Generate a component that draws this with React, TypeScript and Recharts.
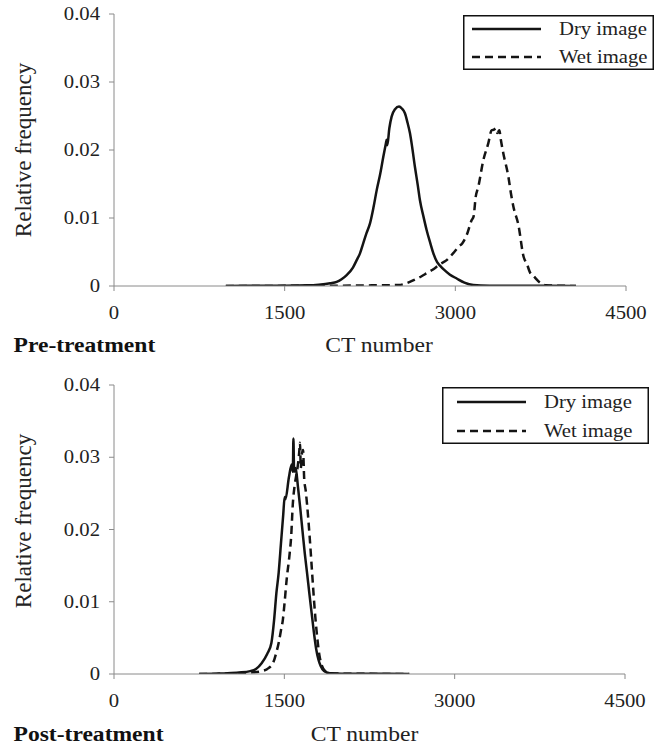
import React from 'react';
import { LineChart, Line, XAxis, YAxis } from 'recharts';

const ctTicks = [0, 1500, 3000, 4500];
const freqTicks = [0, 0.01, 0.02, 0.03, 0.04];
const seriesNames = ['Dry image', 'Wet image'];

// Pre-treatment, dry image
const preDryCt = [983, 1200, 1500, 1700, 1800, 1900, 1957, 2000, 2045, 2100, 2133, 2162, 2191, 2220, 2250, 2280, 2309, 2340, 2367, 2390, 2396, 2402, 2420, 2440, 2470, 2505, 2530, 2557, 2580, 2601, 2620, 2645, 2670, 2689, 2720, 2748, 2780, 2807, 2840, 2865, 2900, 2950, 3012, 3080, 3158, 3300, 3500, 3800, 4060];
const preDryFreq = [0, 0.00003, 0.00005, 0.0001, 0.0002, 0.0004, 0.0006, 0.001, 0.0016, 0.0027, 0.0038, 0.0048, 0.0063, 0.0078, 0.0092, 0.0115, 0.0141, 0.0165, 0.019, 0.021, 0.0215, 0.0207, 0.0232, 0.0249, 0.026, 0.0264, 0.0261, 0.0254, 0.024, 0.0225, 0.0205, 0.0175, 0.0148, 0.0126, 0.0102, 0.0082, 0.0063, 0.0048, 0.0035, 0.003, 0.0024, 0.0017, 0.0011, 0.0005, 0.00015, 0.00005, 0.00003, 0.00002, 0];

// Pre-treatment, wet image
const preWetCt = [983, 1500, 2000, 2300, 2500, 2600, 2650, 2700, 2750, 2800, 2865, 2924, 2980, 3030, 3062, 3100, 3144, 3160, 3179, 3202, 3246, 3290, 3319, 3340, 3357, 3369, 3387, 3400, 3422, 3466, 3490, 3510, 3554, 3600, 3630, 3656, 3685, 3744, 3800, 3900, 4060];
const preWetFreq = [0, 0.00002, 0.00005, 0.0001, 0.00015, 0.0006, 0.001, 0.0014, 0.0019, 0.0024, 0.0032, 0.0038, 0.0048, 0.0058, 0.0063, 0.0075, 0.0097, 0.0102, 0.0131, 0.0146, 0.0185, 0.021, 0.0229, 0.023, 0.0232, 0.0225, 0.0229, 0.0215, 0.0195, 0.0161, 0.0135, 0.0117, 0.009, 0.0043, 0.0032, 0.002, 0.0015, 0.0005, 0.0001, 0.00005, 0];

// Post-treatment, dry image
const postDryCt = [750, 900, 1000, 1100, 1200, 1250, 1300, 1350, 1386, 1410, 1430, 1450, 1470, 1490, 1503, 1510, 1540, 1565, 1575, 1580, 1586, 1600, 1620, 1640, 1660, 1680, 1700, 1720, 1740, 1760, 1780, 1800, 1820, 1850, 1900, 2000, 2200, 2400, 2600];
const postDryFreq = [0, 0.00005, 0.0001, 0.0002, 0.0004, 0.0007, 0.0015, 0.0028, 0.0043, 0.0075, 0.0112, 0.014, 0.018, 0.022, 0.0245, 0.0242, 0.0272, 0.029, 0.028, 0.0326, 0.028, 0.0285, 0.0259, 0.023, 0.0198, 0.0167, 0.014, 0.0112, 0.0085, 0.0058, 0.0035, 0.002, 0.0011, 0.0004, 0.0001, 0.00005, 0.00003, 0.00002, 0];

// Post-treatment, wet image
const postWetCt = [750, 1000, 1200, 1300, 1350, 1400, 1430, 1450, 1470, 1487, 1500, 1520, 1547, 1560, 1575, 1590, 1605, 1620, 1630, 1638, 1645, 1655, 1665, 1675, 1688, 1700, 1723, 1743, 1760, 1775, 1790, 1810, 1830, 1860, 1900, 2000, 2600];
const postWetFreq = [0, 0.00005, 0.0002, 0.0004, 0.0007, 0.0015, 0.003, 0.0043, 0.006, 0.0075, 0.0095, 0.013, 0.0167, 0.019, 0.0236, 0.026, 0.0275, 0.029, 0.0305, 0.032, 0.0285, 0.0305, 0.031, 0.027, 0.0254, 0.0235, 0.019, 0.0144, 0.0105, 0.0075, 0.005, 0.0025, 0.0012, 0.0004, 0.0001, 0.00005, 0];

const toRows = (ct: number[], freq: number[]) => ct.map((c, i) => ({ ct: c, freq: freq[i] }));

const FONT = 'Liberation Serif';
const SX = 1.15; // the original figure is a little stretched sideways
const AXIS = '#8a8a8a';
const INK = '#141414';
const TXT = '#222';
const DASH = '8 5';

function CtTick({ x, y, payload }: any) {
  return (
    <text transform={`translate(${x},${y + 28}) scale(${SX},1)`} textAnchor="middle" fill={TXT} fontFamily={FONT} fontSize={18}>
      {payload.value}
    </text>
  );
}

function FreqTick({ x, y, payload }: any) {
  return (
    <text transform={`translate(${x - 9},${y + 6}) scale(${SX},1)`} textAnchor="end" fill={TXT} fontFamily={FONT} fontSize={18}>
      {String(payload.value)}
    </text>
  );
}

function LegendBox({ left, top, w, h, lineX0, lineX1, textX, rows }: any) {
  return (
    <svg width={w} height={h} style={{ position: 'absolute', left, top, display: 'block' }}>
      <rect x={0.75} y={0.75} width={w - 1.5} height={h - 1.5} fill="#fff" stroke="#111" strokeWidth={1.5} />
      {seriesNames.map((name, i) => (
        <g key={name}>
          <line x1={lineX0} x2={lineX1} y1={rows[i]} y2={rows[i]} stroke={INK} strokeWidth={2.5} strokeDasharray={i === 1 ? DASH : undefined} />
          <text transform={`translate(${textX},${rows[i] + 6}) scale(${SX},1)`} fill={TXT} fontFamily={FONT} fontSize={18}>
            {name}
          </text>
        </g>
      ))}
    </svg>
  );
}

function Panel({ top, height, plotTop, plotBottom, plotRight, dry, wet, legend }: any) {
  return (
    <div style={{ position: 'absolute', left: 0, top, width: 663, height }}>
      <LineChart
        width={663}
        height={height}
        margin={{ top: plotTop, right: 663 - plotRight, bottom: height - plotBottom - 40, left: 0 }}
      >
        <XAxis
          type="number"
          dataKey="ct"
          domain={[0, 4500]}
          ticks={ctTicks}
          height={40}
          tickSize={5}
          tickMargin={0}
          tick={<CtTick />}
          stroke={AXIS}
          allowDataOverflow
        />
        <YAxis
          type="number"
          domain={[0, 0.04]}
          ticks={freqTicks}
          width={114}
          tickSize={5}
          tickMargin={0}
          tick={<FreqTick />}
          stroke={AXIS}
          allowDataOverflow
        />
        <Line
          data={dry}
          dataKey="freq"
          name={seriesNames[0]}
          type="monotone"
          stroke={INK}
          strokeWidth={2.5}
          dot={false}
          isAnimationActive={false}
        />
        <Line
          data={wet}
          dataKey="freq"
          name={seriesNames[1]}
          type="monotone"
          stroke={INK}
          strokeWidth={2.5}
          strokeDasharray={DASH}
          dot={false}
          isAnimationActive={false}
        />
      </LineChart>
      <LegendBox {...legend} />
    </div>
  );
}

export default function App() {
  return (
    <div style={{ position: 'absolute', left: 0, top: 0, width: 663, height: 746, background: '#fff', fontFamily: FONT }}>
      <Panel
        top={0}
        height={370}
        plotTop={14}
        plotBottom={286}
        plotRight={626}
        dry={toRows(preDryCt, preDryFreq)}
        wet={toRows(preWetCt, preWetFreq)}
        legend={{ left: 463, top: 15, w: 191, h: 55, lineX0: 9, lineX1: 78, textX: 96, rows: [14, 42] }}
      />
      <Panel
        top={370}
        height={376}
        plotTop={15}
        plotBottom={304}
        plotRight={625}
        dry={toRows(postDryCt, postDryFreq)}
        wet={toRows(postWetCt, postWetFreq)}
        legend={{ left: 442, top: 17, w: 207, h: 57, lineX0: 15, lineX1: 84, textX: 102, rows: [15, 44] }}
      />
      <svg width={663} height={746} style={{ position: 'absolute', left: 0, top: 0, pointerEvents: 'none' }}>
        <text transform="translate(31,150) rotate(-90)" textAnchor="middle" fill={TXT} fontFamily={FONT} fontSize={23}>Relative frequency</text>
        <text transform="translate(31,521) rotate(-90)" textAnchor="middle" fill={TXT} fontFamily={FONT} fontSize={23}>Relative frequency</text>
        <text transform={`translate(13.5,351.5) scale(${SX},1)`} fill="#111" fontFamily={FONT} fontSize={20.5} fontWeight="bold">Pre-treatment</text>
        <text transform={`translate(379,351.5) scale(${SX},1)`} textAnchor="middle" fill={TXT} fontFamily={FONT} fontSize={20.5}>CT number</text>
        <text transform={`translate(13.5,741) scale(${SX},1)`} fill="#111" fontFamily={FONT} fontSize={20.5} fontWeight="bold">Post-treatment</text>
        <text transform={`translate(364.5,741) scale(${SX},1)`} textAnchor="middle" fill={TXT} fontFamily={FONT} fontSize={20.5}>CT number</text>
      </svg>
    </div>
  );
}
